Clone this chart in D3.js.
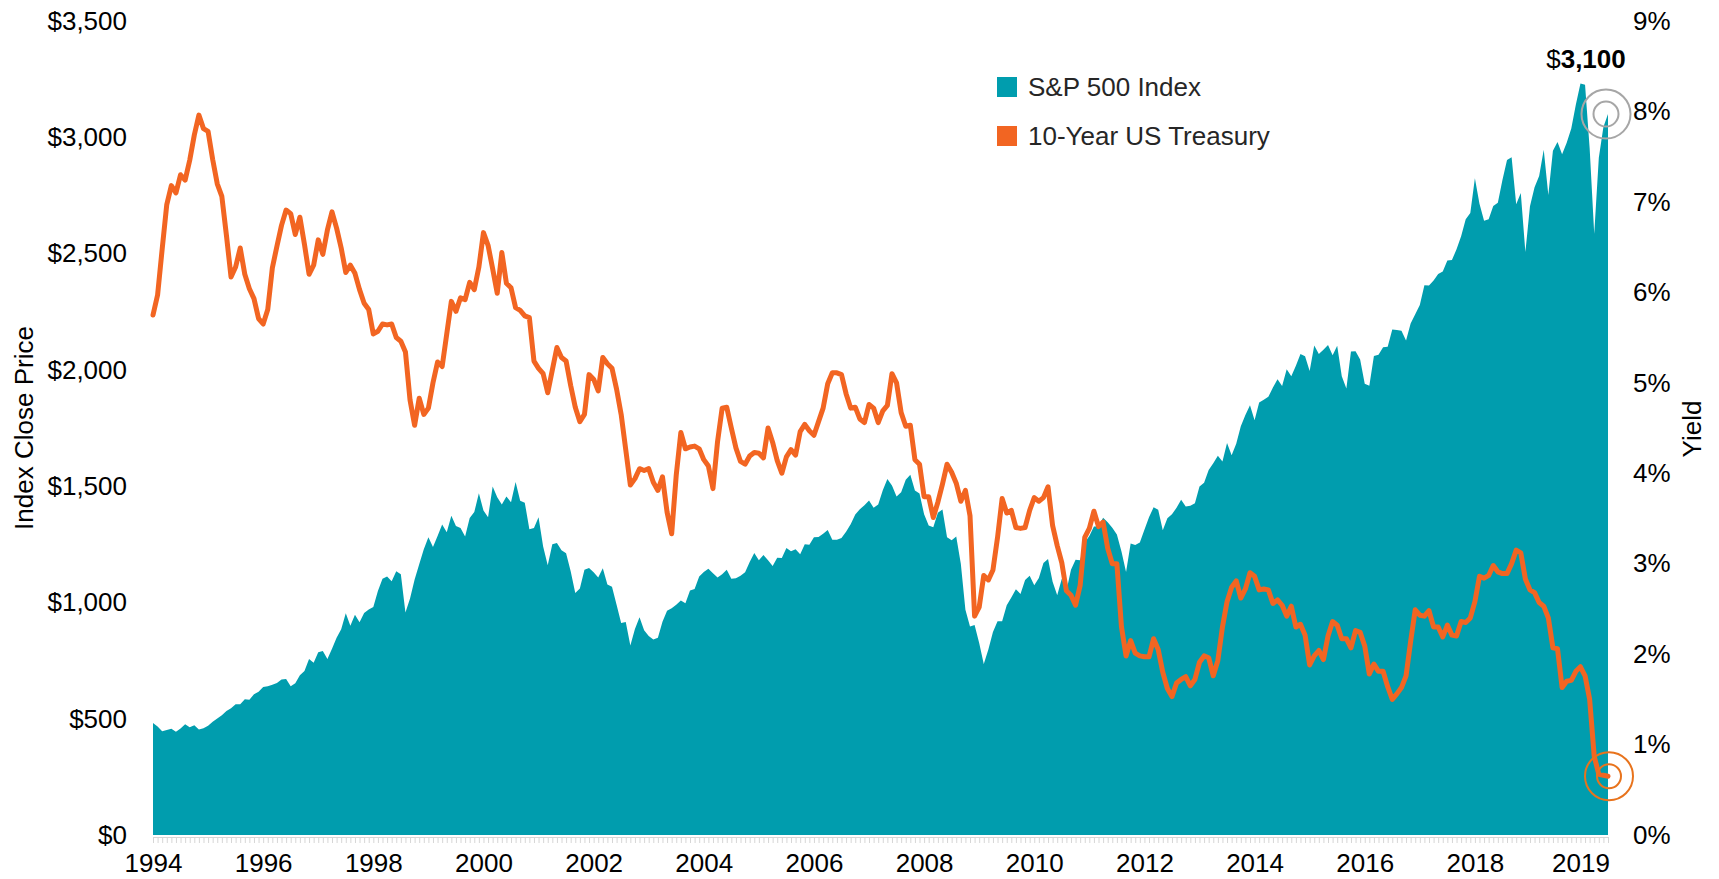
<!DOCTYPE html>
<html lang="en">
<head>
<meta charset="UTF-8">
<title>S&amp;P 500 Index vs 10-Year US Treasury</title>
<script src="https://d3js.org/d3.v7.min.js"></script>
<style>
  body { margin: 0; background: #fff; font-family: "Liberation Sans", Arial, sans-serif; }
  svg { display: block; }
  .tick text { fill: #000; font-family: "Liberation Sans", Arial, sans-serif; }
  .minor path, .minor line { stroke: #d6d6d6; }
</style>
</head>
<body>
<svg width="1719" height="879"></svg>
<script>
// monthly closes, Jan 1994 .. Jun 2020
const startMonth = "1994-01";

const sp500 = [
  482, 467, 446, 451, 457, 444, 458, 476, 463, 472, 454, 459,
  470, 487, 501, 515, 533, 545, 562, 562, 584, 582, 605, 616,
  636, 640, 646, 654, 669, 671, 640, 652, 687, 705, 757, 741,
  786, 791, 757, 801, 848, 885, 954, 900, 947, 915, 955, 970,
  980, 1049, 1102, 1112, 1091, 1134, 1121, 957, 1017, 1099, 1164, 1229,
  1280, 1238, 1286, 1335, 1302, 1373, 1329, 1320, 1283, 1363, 1389, 1469,
  1395, 1366, 1499, 1452, 1421, 1455, 1431, 1518, 1437, 1429, 1315, 1320,
  1366, 1240, 1160, 1250, 1256, 1224, 1211, 1134, 1041, 1060, 1140, 1148,
  1130, 1107, 1147, 1077, 1067, 990, 912, 916, 815, 886, 936, 880,
  856, 841, 848, 917, 964, 975, 990, 1008, 996, 1051, 1058, 1112,
  1131, 1145, 1126, 1107, 1121, 1141, 1102, 1104, 1115, 1130, 1174, 1212,
  1181, 1204, 1181, 1157, 1192, 1191, 1234, 1220, 1229, 1207, 1250, 1248,
  1280, 1281, 1295, 1311, 1270, 1270, 1277, 1304, 1336, 1378, 1401, 1418,
  1438, 1407, 1421, 1482, 1531, 1503, 1455, 1474, 1527, 1549, 1481, 1468,
  1379, 1331, 1323, 1386, 1400, 1280, 1267, 1283, 1166, 969, 896, 903,
  826, 735, 798, 873, 919, 919, 988, 1021, 1057, 1036, 1096, 1115,
  1074, 1105, 1169, 1187, 1089, 1031, 1102, 1049, 1141, 1183, 1181, 1258,
  1286, 1327, 1326, 1364, 1345, 1321, 1292, 1219, 1131, 1253, 1247, 1258,
  1312, 1366, 1409, 1398, 1310, 1362, 1379, 1407, 1441, 1412, 1416, 1426,
  1498, 1515, 1569, 1598, 1631, 1606, 1686, 1633, 1682, 1757, 1806, 1848,
  1783, 1860, 1872, 1884, 1924, 1960, 1931, 2003, 1972, 2018, 2068, 2059,
  1995, 2105, 2068, 2086, 2107, 2063, 2104, 1972, 1920, 2079, 2080, 2044,
  1940, 1932, 2060, 2065, 2097, 2099, 2174, 2171, 2168, 2126, 2199, 2239,
  2279, 2364, 2363, 2384, 2412, 2423, 2470, 2472, 2519, 2575, 2648, 2674,
  2824, 2714, 2641, 2648, 2705, 2718, 2816, 2902, 2914, 2712, 2760, 2507,
  2704, 2785, 2834, 2946, 2752, 2942, 2980, 2927, 2977, 3038, 3141, 3231,
  3226, 2954, 2585, 2912, 3044, 3100
];

const treasury10y = [
  5.75, 5.97, 6.48, 6.97, 7.18, 7.10, 7.30, 7.24, 7.46, 7.74, 7.96, 7.81,
  7.78, 7.47, 7.20, 7.06, 6.63, 6.17, 6.28, 6.49, 6.20, 6.04, 5.93, 5.71,
  5.65, 5.81, 6.27, 6.51, 6.74, 6.91, 6.87, 6.64, 6.83, 6.53, 6.20, 6.30,
  6.58, 6.42, 6.69, 6.89, 6.71, 6.49, 6.22, 6.30, 6.21, 6.03, 5.88, 5.81,
  5.54, 5.57, 5.65, 5.64, 5.65, 5.50, 5.46, 5.34, 4.81, 4.53, 4.83, 4.65,
  4.72, 5.00, 5.23, 5.18, 5.54, 5.90, 5.79, 5.94, 5.92, 6.11, 6.03, 6.28,
  6.66, 6.52, 6.26, 5.99, 6.44, 6.10, 6.05, 5.83, 5.80, 5.74, 5.72, 5.24,
  5.16, 5.10, 4.89, 5.14, 5.39, 5.28, 5.24, 4.97, 4.73, 4.57, 4.65, 5.09,
  5.04, 4.91, 5.28, 5.21, 5.16, 4.93, 4.65, 4.26, 3.87, 3.94, 4.05, 4.03,
  4.05, 3.90, 3.81, 3.96, 3.57, 3.33, 3.98, 4.45, 4.27, 4.29, 4.30, 4.27,
  4.15, 4.08, 3.83, 4.35, 4.72, 4.73, 4.50, 4.28, 4.13, 4.10, 4.19, 4.23,
  4.22, 4.17, 4.50, 4.34, 4.14, 4.00, 4.18, 4.26, 4.20, 4.46, 4.54, 4.47,
  4.42, 4.57, 4.72, 4.99, 5.11, 5.11, 5.09, 4.88, 4.72, 4.73, 4.60, 4.56,
  4.76, 4.72, 4.56, 4.69, 4.75, 5.10, 5.00, 4.67, 4.52, 4.53, 4.15, 4.10,
  3.74, 3.74, 3.51, 3.68, 3.88, 4.10, 4.01, 3.89, 3.69, 3.81, 3.53, 2.42,
  2.52, 2.87, 2.82, 2.93, 3.29, 3.72, 3.56, 3.59, 3.40, 3.39, 3.40, 3.59,
  3.73, 3.69, 3.73, 3.85, 3.42, 3.20, 3.01, 2.70, 2.65, 2.54, 2.76, 3.29,
  3.39, 3.58, 3.41, 3.46, 3.17, 3.00, 3.00, 2.30, 1.98, 2.15, 2.01, 1.98,
  1.97, 1.97, 2.17, 2.05, 1.80, 1.62, 1.53, 1.68, 1.72, 1.75, 1.65, 1.72,
  1.91, 1.98, 1.96, 1.76, 1.93, 2.30, 2.58, 2.74, 2.81, 2.62, 2.72, 2.90,
  2.86, 2.71, 2.72, 2.71, 2.56, 2.60, 2.54, 2.42, 2.53, 2.30, 2.33, 2.21,
  1.88, 1.98, 2.04, 1.94, 2.20, 2.36, 2.32, 2.17, 2.17, 2.07, 2.26, 2.24,
  2.09, 1.78, 1.89, 1.81, 1.81, 1.64, 1.50, 1.56, 1.63, 1.76, 2.14, 2.49,
  2.43, 2.42, 2.48, 2.30, 2.30, 2.19, 2.32, 2.21, 2.20, 2.36, 2.35, 2.40,
  2.58, 2.86, 2.84, 2.87, 2.98, 2.91, 2.89, 2.89, 3.00, 3.15, 3.12, 2.83,
  2.71, 2.68, 2.57, 2.53, 2.40, 2.07, 2.06, 1.63, 1.70, 1.71, 1.81, 1.86,
  1.76, 1.50, 0.87, 0.67, 0.66, 0.65
];

const yearTickMonths = ["1994-01", "1996-01", "1998-01", "2000-01", "2002-01", "2004-01", "2006-01",
                        "2008-01", "2010-01", "2012-01", "2014-01", "2016-01", "2018-01", "2019-12"];
const yearTickLabels = ["1994", "1996", "1998", "2000", "2002", "2004", "2006",
                        "2008", "2010", "2012", "2014", "2016", "2018", "2019"];
const priceTicks = [0, 500, 1000, 1500, 2000, 2500, 3000, 3500];
const yieldTicks = [0, 1, 2, 3, 4, 5, 6, 7, 8, 9];
const seriesNames = ["S&P 500 Index", "10-Year US Treasury"];
const priceLabel = "3,100";

const teal = "#009dae", orange = "#f26522";

const svg = d3.select("svg");
const plot = {left: 153, right: 1608, top: 21, bottom: 835};

const parseMonth = d3.timeParse("%Y-%m");
const start = parseMonth(startMonth);
const n = sp500.length;

const x = d3.scaleLinear().domain([0, n - 1]).range([plot.left, plot.right]);
const yPrice = d3.scaleLinear().domain([0, 3500]).range([plot.bottom, plot.top]);
const yYield = d3.scaleLinear().domain([0, 9]).range([plot.bottom, plot.top]);

// S&P area
svg.append("path")
  .datum(sp500)
  .attr("fill", teal)
  .attr("d", d3.area()
    .x((d, i) => x(i))
    .y0(yPrice(0))
    .y1(d => yPrice(d)));

// small month ticks under the area
svg.append("g")
  .attr("class", "minor")
  .attr("transform", `translate(0,${plot.bottom + 2})`)
  .call(d3.axisBottom(x).tickValues(d3.range(n)).tickSize(6).tickSizeOuter(0).tickFormat(""));

// treasury line
svg.append("path")
  .datum(treasury10y)
  .attr("fill", "none")
  .attr("stroke", orange)
  .attr("stroke-width", 5)
  .attr("stroke-linejoin", "round")
  .attr("stroke-linecap", "round")
  .attr("d", d3.line()
    .x((d, i) => x(i))
    .y(d => yYield(d)));

// axes
const fmtPrice = d3.format(",");
svg.append("g")
  .attr("transform", "translate(127,0)")
  .call(d3.axisLeft(yPrice).tickValues(priceTicks).tickSize(0).tickPadding(0)
    .tickFormat(d => "$" + fmtPrice(d)))
  .call(g => g.select(".domain").remove())
  .selectAll("text").attr("font-size", 26);

svg.append("g")
  .attr("transform", "translate(1633,0)")
  .call(d3.axisRight(yYield).tickValues(yieldTicks).tickSize(0).tickPadding(0)
    .tickFormat(d => d + "%"))
  .call(g => g.select(".domain").remove())
  .selectAll("text").attr("font-size", 26);

const tickIdx = yearTickMonths.map(m => d3.timeMonth.count(start, parseMonth(m)));
svg.append("g")
  .attr("transform", "translate(0,854)")
  .call(d3.axisBottom(x).tickValues(tickIdx).tickSize(0).tickPadding(0)
    .tickFormat((d, i) => yearTickLabels[i]))
  .call(g => g.select(".domain").remove())
  .selectAll("text").attr("font-size", 26);

// axis titles
svg.append("text")
  .attr("transform", "translate(33,428) rotate(-90)")
  .attr("text-anchor", "middle")
  .attr("font-size", 26)
  .text("Index Close Price");

svg.append("text")
  .attr("transform", "translate(1701,429) rotate(-90)")
  .attr("text-anchor", "middle")
  .attr("font-size", 26)
  .text("Yield");

// legend
const legend = svg.append("g").attr("transform", "translate(997,77)");
seriesNames.forEach((name, i) => {
  const row = legend.append("g").attr("transform", `translate(0,${i * 49})`);
  row.append("rect").attr("width", 20).attr("height", 20)
    .attr("fill", i === 0 ? teal : orange);
  row.append("text").attr("x", 31).attr("y", 10).attr("dy", "0.35em")
    .attr("font-size", 26).attr("fill", "#262626").text(name);
});

// end-point markers
const lastX = x(n - 1);
const lastPriceY = yPrice(sp500[n - 1]);
const lastYieldY = yYield(treasury10y[n - 1]);

[12.5, 24.5].forEach(r => {
  svg.append("circle").attr("cx", lastX - 2).attr("cy", lastPriceY).attr("r", r)
    .attr("fill", "none").attr("stroke", "#a6a6a6").attr("stroke-width", 2);
  svg.append("circle").attr("cx", lastX + 1).attr("cy", lastYieldY).attr("r", r - 0.5)
    .attr("fill", "none").attr("stroke", "#e8731c").attr("stroke-width", 2);
});

const ann = svg.append("text")
  .attr("x", lastX - 22).attr("y", lastPriceY - 46)
  .attr("text-anchor", "middle")
  .attr("font-size", 26);
ann.append("tspan").text("$");
ann.append("tspan").attr("font-weight", "bold").text(priceLabel);
</script>
</body>
</html>
